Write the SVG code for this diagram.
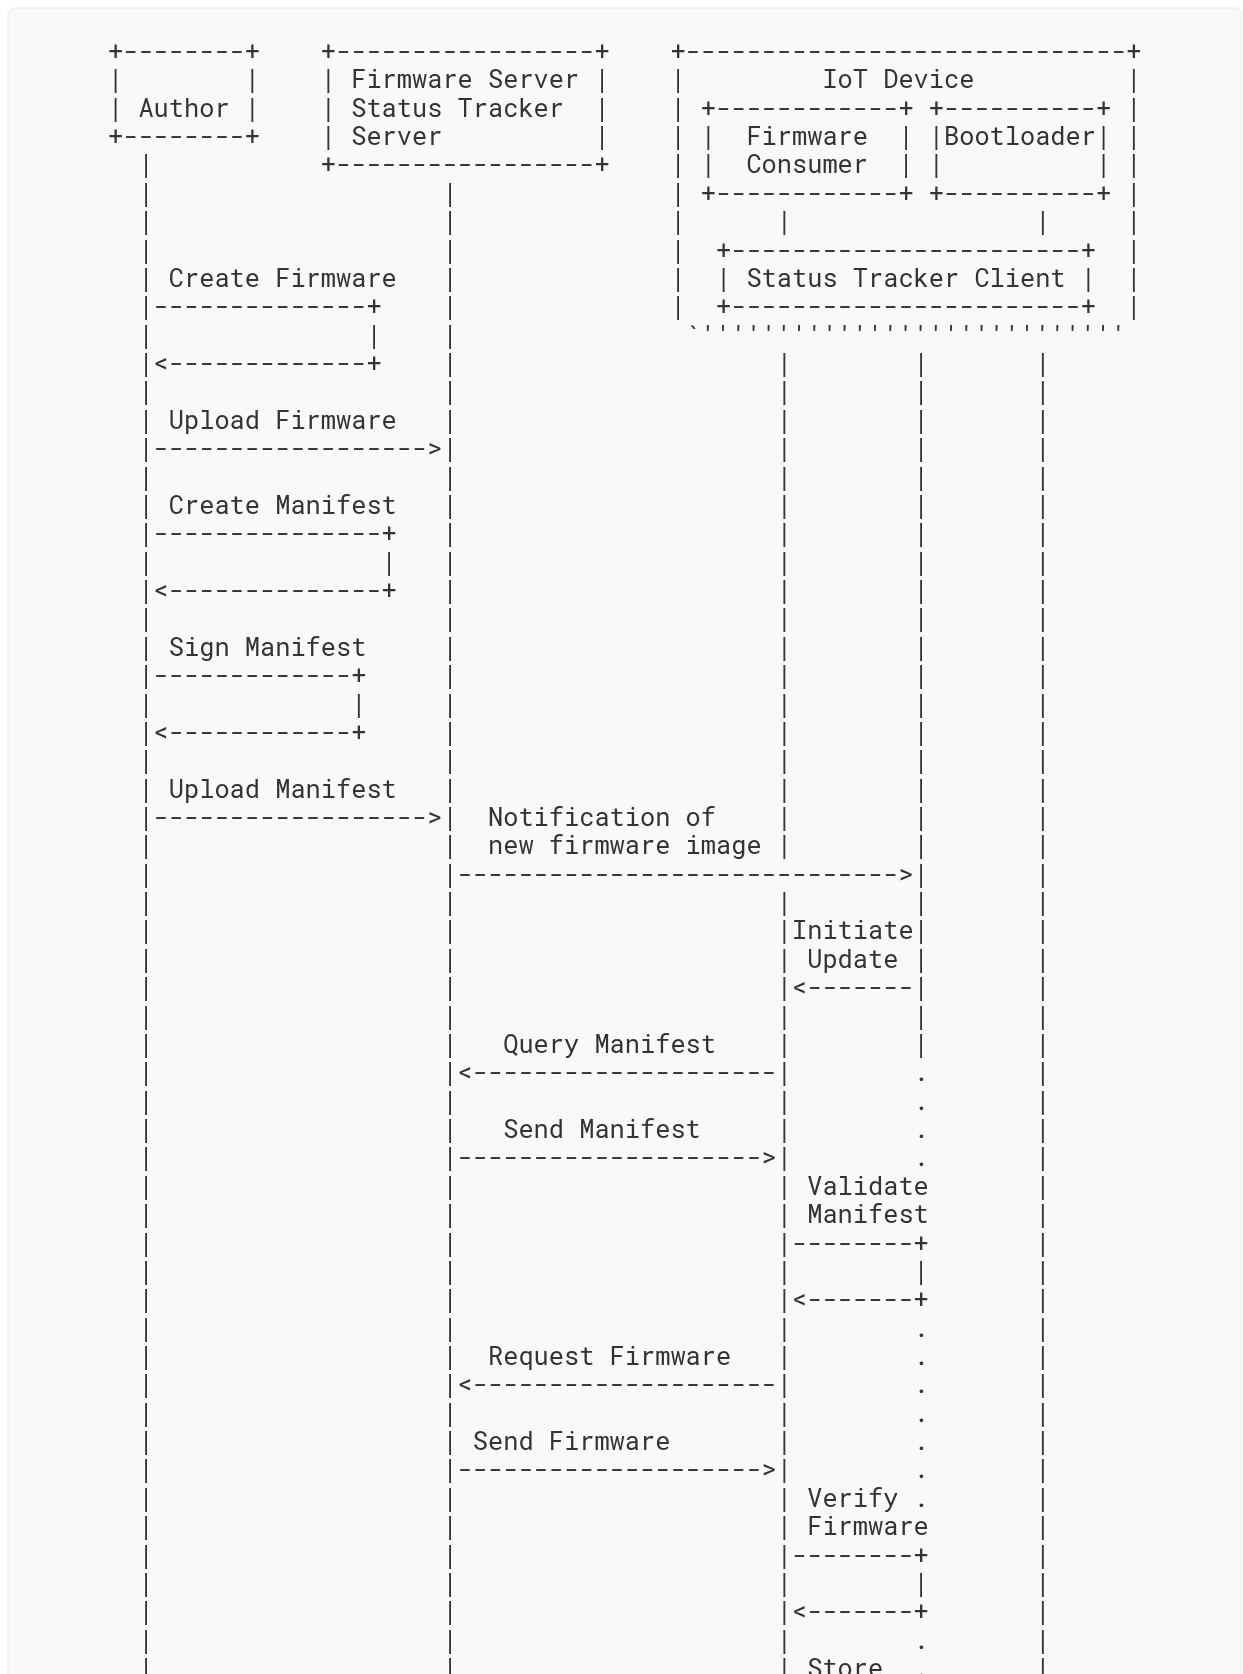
<svg xmlns="http://www.w3.org/2000/svg" width="1243" height="1674" viewBox="0 0 1243 1674">
<style>
text{font-family:"Roboto Mono","DejaVu Sans Mono","Liberation Mono",monospace;font-size:25.33px;fill:#333;white-space:pre}
#diagram{opacity:.999}
</style>
<rect width="1243" height="1674" fill="#fff"/>
<rect x="8" y="8" width="1233.5" height="1700" rx="7" fill="#f9f9f9" stroke="#eee" stroke-width="1.5"/>
<g id="diagram" transform="translate(0 -0.2)">
<g id="node-author">
<text xml:space="preserve" x="108" y="60.2">+--------+</text>
<text xml:space="preserve" x="108" y="88.57">|        |</text>
<text xml:space="preserve" x="108" y="116.94">| Author |</text>
<text xml:space="preserve" x="108" y="145.31">+--------+</text>
</g>
<g id="node-server">
<text xml:space="preserve" x="320.8" y="60.2">+-----------------+</text>
<text xml:space="preserve" x="320.8" y="88.57">| Firmware Server |</text>
<text xml:space="preserve" x="320.8" y="116.94">| Status Tracker  |</text>
<text xml:space="preserve" x="320.8" y="145.31">| Server          |</text>
<text xml:space="preserve" x="320.8" y="173.68">+-----------------+</text>
</g>
<g id="node-iot">
<text xml:space="preserve" x="670.4" y="60.2">+-----------------------------+</text>
<text xml:space="preserve" x="670.4" y="88.57">|         IoT Device          |</text>
<text xml:space="preserve" x="670.4" y="116.94">| +------------+ +----------+ |</text>
<text xml:space="preserve" x="670.4" y="145.31">| |  Firmware  | |Bootloader| |</text>
<text xml:space="preserve" x="670.4" y="173.68">| |  Consumer  | |          | |</text>
<text xml:space="preserve" x="670.4" y="202.05">| +------------+ +----------+ |</text>
<text xml:space="preserve" x="670.4" y="230.42">|      |                |     |</text>
<text xml:space="preserve" x="670.4" y="258.79">|  +-----------------------+  |</text>
<text xml:space="preserve" x="670.4" y="287.16">|  | Status Tracker Client |  |</text>
<text xml:space="preserve" x="670.4" y="315.53">|  +-----------------------+  |</text>
<text xml:space="preserve" x="670.4" y="343.9"> `''''''''''''''''''''''''''''</text>
</g>
<g id="connectors">
<g id="lifeline-author" transform="translate(138.4 0)">
<text y="173.68">|</text><text y="202.05">|</text><text y="230.42">|</text><text y="258.79">|</text><text y="287.16">|</text><text y="315.53">|</text><text y="343.9">|</text><text y="372.27">|</text><text y="400.64">|</text><text y="429.01">|</text><text y="457.38">|</text><text y="485.75">|</text><text y="514.12">|</text><text y="542.49">|</text><text y="570.86">|</text><text y="599.23">|</text><text y="627.6">|</text><text y="655.97">|</text><text y="684.34">|</text><text y="712.71">|</text><text y="741.08">|</text><text y="769.45">|</text><text y="797.82">|</text><text y="826.19">|</text><text y="854.56">|</text><text y="882.93">|</text><text y="911.3">|</text><text y="939.67">|</text><text y="968.04">|</text><text y="996.41">|</text><text y="1024.78">|</text><text y="1053.15">|</text><text y="1081.52">|</text><text y="1109.89">|</text><text y="1138.26">|</text><text y="1166.63">|</text><text y="1195">|</text><text y="1223.37">|</text><text y="1251.74">|</text><text y="1280.11">|</text><text y="1308.48">|</text><text y="1336.85">|</text><text y="1365.22">|</text><text y="1393.59">|</text><text y="1421.96">|</text><text y="1450.33">|</text><text y="1478.7">|</text><text y="1507.07">|</text><text y="1535.44">|</text><text y="1563.81">|</text><text y="1592.18">|</text><text y="1620.55">|</text><text y="1648.92">|</text><text y="1677.29">|</text>
</g>
<g id="lifeline-server" transform="translate(442.4 0)">
<text y="202.05">|</text><text y="230.42">|</text><text y="258.79">|</text><text y="287.16">|</text><text y="315.53">|</text><text y="343.9">|</text><text y="372.27">|</text><text y="400.64">|</text><text y="429.01">|</text><text y="457.38">|</text><text y="485.75">|</text><text y="514.12">|</text><text y="542.49">|</text><text y="570.86">|</text><text y="599.23">|</text><text y="627.6">|</text><text y="655.97">|</text><text y="684.34">|</text><text y="712.71">|</text><text y="741.08">|</text><text y="769.45">|</text><text y="797.82">|</text><text y="826.19">|</text><text y="854.56">|</text><text y="882.93">|</text><text y="911.3">|</text><text y="939.67">|</text><text y="968.04">|</text><text y="996.41">|</text><text y="1024.78">|</text><text y="1053.15">|</text><text y="1081.52">|</text><text y="1109.89">|</text><text y="1138.26">|</text><text y="1166.63">|</text><text y="1195">|</text><text y="1223.37">|</text><text y="1251.74">|</text><text y="1280.11">|</text><text y="1308.48">|</text><text y="1336.85">|</text><text y="1365.22">|</text><text y="1393.59">|</text><text y="1421.96">|</text><text y="1450.33">|</text><text y="1478.7">|</text><text y="1507.07">|</text><text y="1535.44">|</text><text y="1563.81">|</text><text y="1592.18">|</text><text y="1620.55">|</text><text y="1648.92">|</text><text y="1677.29">|</text>
</g>
<g id="lifeline-consumer" transform="translate(776.8 0)">
<text y="372.27">|</text><text y="400.64">|</text><text y="429.01">|</text><text y="457.38">|</text><text y="485.75">|</text><text y="514.12">|</text><text y="542.49">|</text><text y="570.86">|</text><text y="599.23">|</text><text y="627.6">|</text><text y="655.97">|</text><text y="684.34">|</text><text y="712.71">|</text><text y="741.08">|</text><text y="769.45">|</text><text y="797.82">|</text><text y="826.19">|</text><text y="854.56">|</text><text y="911.3">|</text><text y="939.67">|</text><text y="968.04">|</text><text y="996.41">|</text><text y="1024.78">|</text><text y="1053.15">|</text><text y="1081.52">|</text><text y="1109.89">|</text><text y="1138.26">|</text><text y="1166.63">|</text><text y="1195">|</text><text y="1223.37">|</text><text y="1251.74">|</text><text y="1280.11">|</text><text y="1308.48">|</text><text y="1336.85">|</text><text y="1365.22">|</text><text y="1393.59">|</text><text y="1421.96">|</text><text y="1450.33">|</text><text y="1478.7">|</text><text y="1507.07">|</text><text y="1535.44">|</text><text y="1563.81">|</text><text y="1592.18">|</text><text y="1620.55">|</text><text y="1648.92">|</text><text y="1677.29">|</text>
</g>
<g id="lifeline-client" transform="translate(913.6 0)">
<text y="372.27">|</text><text y="400.64">|</text><text y="429.01">|</text><text y="457.38">|</text><text y="485.75">|</text><text y="514.12">|</text><text y="542.49">|</text><text y="570.86">|</text><text y="599.23">|</text><text y="627.6">|</text><text y="655.97">|</text><text y="684.34">|</text><text y="712.71">|</text><text y="741.08">|</text><text y="769.45">|</text><text y="797.82">|</text><text y="826.19">|</text><text y="854.56">|</text><text y="882.93">|</text><text y="911.3">|</text><text y="939.67">|</text><text y="968.04">|</text><text y="996.41">|</text><text y="1024.78">|</text><text y="1053.15">|</text><text y="1081.52">.</text><text y="1109.89">.</text><text y="1138.26">.</text><text y="1166.63">.</text><text y="1336.85">.</text><text y="1365.22">.</text><text y="1393.59">.</text><text y="1421.96">.</text><text y="1450.33">.</text><text y="1478.7">.</text><text y="1507.07">.</text><text y="1648.92">.</text><text y="1677.29">.</text>
</g>
<g id="lifeline-bootloader" transform="translate(1035.2 0)">
<text y="372.27">|</text><text y="400.64">|</text><text y="429.01">|</text><text y="457.38">|</text><text y="485.75">|</text><text y="514.12">|</text><text y="542.49">|</text><text y="570.86">|</text><text y="599.23">|</text><text y="627.6">|</text><text y="655.97">|</text><text y="684.34">|</text><text y="712.71">|</text><text y="741.08">|</text><text y="769.45">|</text><text y="797.82">|</text><text y="826.19">|</text><text y="854.56">|</text><text y="882.93">|</text><text y="911.3">|</text><text y="939.67">|</text><text y="968.04">|</text><text y="996.41">|</text><text y="1024.78">|</text><text y="1053.15">|</text><text y="1081.52">|</text><text y="1109.89">|</text><text y="1138.26">|</text><text y="1166.63">|</text><text y="1195">|</text><text y="1223.37">|</text><text y="1251.74">|</text><text y="1280.11">|</text><text y="1308.48">|</text><text y="1336.85">|</text><text y="1365.22">|</text><text y="1393.59">|</text><text y="1421.96">|</text><text y="1450.33">|</text><text y="1478.7">|</text><text y="1507.07">|</text><text y="1535.44">|</text><text y="1563.81">|</text><text y="1592.18">|</text><text y="1620.55">|</text><text y="1648.92">|</text><text y="1677.29">|</text>
</g>
<g id="arrows">
<text x="153.6" y="315.53">--------------+</text>
<text x="366.4" y="343.9">|</text>
<text x="153.6" y="372.27">&lt;-------------+</text>
<text x="153.6" y="457.38">------------------&gt;</text>
<text x="153.6" y="542.49">---------------+</text>
<text x="381.6" y="570.86">|</text>
<text x="153.6" y="599.23">&lt;--------------+</text>
<text x="153.6" y="684.34">-------------+</text>
<text x="351.2" y="712.71">|</text>
<text x="153.6" y="741.08">&lt;------------+</text>
<text x="153.6" y="826.19">------------------&gt;</text>
<text x="457.6" y="882.93">-----------------------------&gt;</text>
<text x="792" y="996.41">&lt;-------</text>
<text x="457.6" y="1081.52">&lt;--------------------</text>
<text x="457.6" y="1166.63">--------------------&gt;</text>
<text x="792" y="1251.74">--------+</text>
<text x="913.6" y="1280.11">|</text>
<text x="792" y="1308.48">&lt;-------+</text>
<text x="457.6" y="1393.59">&lt;--------------------</text>
<text x="457.6" y="1478.7">--------------------&gt;</text>
<text x="792" y="1563.81">--------+</text>
<text x="913.6" y="1592.18">|</text>
<text x="792" y="1620.55">&lt;-------+</text>
</g>
<g id="labels">
<text x="168.8" y="287.16">Create Firmware</text>
<text x="168.8" y="429.01">Upload Firmware</text>
<text x="168.8" y="514.12">Create Manifest</text>
<text x="168.8" y="655.97">Sign Manifest</text>
<text x="168.8" y="797.82">Upload Manifest</text>
<text x="488" y="826.19">Notification of</text>
<text x="488" y="854.56">new firmware image</text>
<text x="792" y="939.67">Initiate</text>
<text x="807.2" y="968.04">Update</text>
<text x="503.2" y="1053.15">Query Manifest</text>
<text x="503.2" y="1138.26">Send Manifest</text>
<text x="807.2" y="1195">Validate</text>
<text x="807.2" y="1223.37">Manifest</text>
<text x="488" y="1365.22">Request Firmware</text>
<text x="472.8" y="1450.33">Send Firmware</text>
<text x="807.2" y="1507.07">Verify</text>
<text x="807.2" y="1535.44">Firmware</text>
<text x="807.2" y="1677.29">Store</text>
</g>
</g>
</g>
</svg>
